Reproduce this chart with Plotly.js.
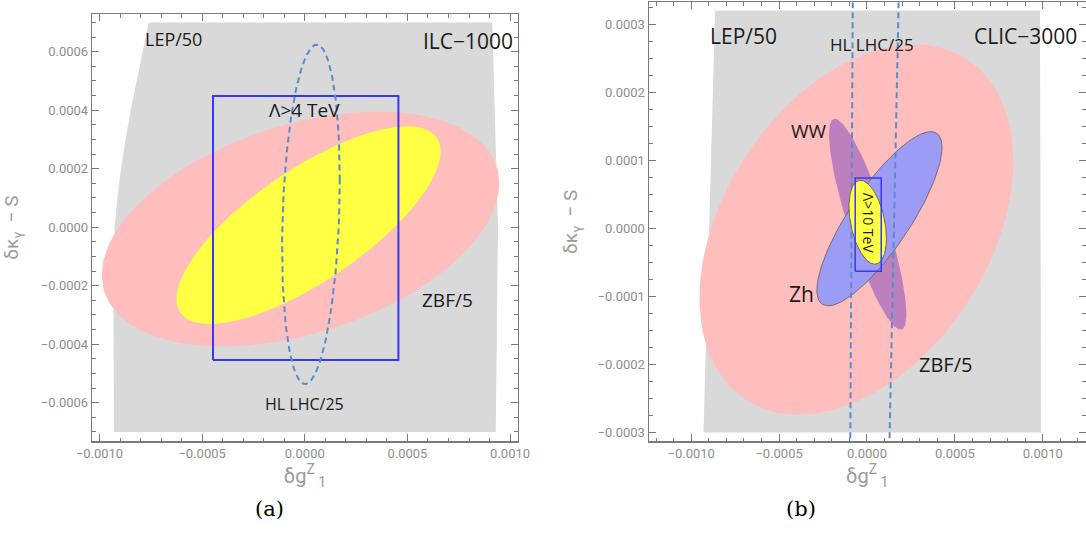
<!DOCTYPE html>
<html>
<head>
<meta charset="utf-8">
<script src="https://cdn.plot.ly/plotly-3.0.1.min.js"></script>
<style>
html,body{margin:0;padding:0;background:#ffffff;}
#chart{width:1086px;height:549px;}
</style>
</head>
<body>
<div id="chart"></div>
<script>
// ================= Panel (a): ILC-1000 =================
// LEP/50 allowed region (outline)
const aLepX = [-0.00076, -0.00079, -0.00082, -0.000848, -0.000873, -0.000895, -0.000913, -0.000926, -0.000932, -0.00093, 0.00093, 0.000941, 0.000913];
const aLepY = [0.0007, 0.0006, 0.0005, 0.0004, 0.0003, 0.0002, 0.0001, 0.0, -0.0002, -0.0007, -0.0007, 0.0, 0.0007];

// Ellipses: centre, half-extent in x and y, correlation
const aEllNames  = ["ZBF/5", "ILC-1000 fit", "HL LHC/25"];
const aEllCX     = [-0.000021, 0.0000185, 0.00003];
const aEllCY     = [-0.0000065, 0.000007, 0.000044];
const aEllSX     = [0.000968, 0.0006435, 0.0001405];
const aEllSY     = [0.0004015, 0.000338, 0.00058];
const aEllRho    = [0.39, 0.745, 0.2];

// Lambda > 4 TeV box
const aBoxX = [-0.000447, 0.000456];
const aBoxY = [-0.000454, 0.000449];

// Text labels
const aLabels  = ["LEP/50", "ILC−1000", "Λ>4 TeV", "ZBF/5", "HL LHC/25"];
const aLabelX  = [-0.00064, 0.000796, 0.0, 0.000695, 0.0];
const aLabelY  = [0.000645, 0.000636, 0.000402, -0.000248, -0.000606];
const aLabelSz = [18, 21, 19, 19, 16];

// ================= Panel (b): CLIC-3000 =================
const bLepX = [-0.000864, 0.000984, 0.00099, -0.00093];
const bLepY = [0.00032, 0.00032, -0.0003, -0.0003];

const bEllNames = ["ZBF/5", "WW", "Zh", "CLIC-3000 fit"];
const bEllCX    = [-0.00006, 0.000004, 0.000071, 0.000004];
const bEllCY    = [-0.000002, 0.000006, 0.000014, 0.0000088];
const bEllSX    = [0.000893, 0.00022, 0.000356, 0.0001067];
const bEllSY    = [0.000272, 0.000155, 0.000128, 0.0000616];
const bEllRho   = [0.37, -0.85, 0.82, -0.38];

// HL LHC/25 band edges (dashed), top and bottom x positions
const bHlY      = [0.000332, -0.000313];
const bHlLeftX  = [-0.000081, -0.000095];
const bHlRightX = [0.00018, 0.000128];

// Lambda > 10 TeV box
const bBoxX = [-0.000067, 0.000081];
const bBoxY = [-0.000063, 0.000074];

const bLabels  = ["LEP/50", "HL LHC/25", "CLIC−3000", "WW", "Zh", "ZBF/5"];
const bLabelX  = [-0.000704, 0.000028, 0.000901, -0.00033, -0.000374, 0.000447];
const bLabelY  = [0.000282, 0.00027, 0.000282, 0.000143, -0.000097, -0.0002];
const bLabelSz = [21, 17, 21, 19, 21, 20];
const bInnerLabel = "Λ>10 TeV";
const bInnerX = 0.000006, bInnerY = 0.000008;

// ---------------- helpers ----------------
function ellipse(cx, cy, sx, sy, rho){
  const xs = [], ys = [];
  const s = Math.sqrt(1 - rho*rho);
  for (let k = 0; k <= 180; k++){
    const t = 2*Math.PI*k/180;
    xs.push(cx + sx*Math.cos(t));
    ys.push(cy + sy*(rho*Math.cos(t) + s*Math.sin(t)));
  }
  return {x: xs, y: ys};
}
function boxPath(bx, by){
  return {x:[bx[0], bx[1], bx[1], bx[0], bx[0]], y:[by[0], by[0], by[1], by[1], by[0]]};
}
function area(xs, ys, color, xa, ya, name, line){
  return {x: xs, y: ys, xaxis: xa, yaxis: ya, type:'scatter', mode:'lines', fill:'toself',
          fillcolor: color, line: line || {width:0, color: color}, hoverinfo:'skip', name: name};
}

const GRAY = '#d9d9d9', PINK = '#ffbebe', YELLOW = '#ffff44', BOXC = '#3636ff', DASHC = '#5a8cc8';
const traces = [];

// Panel (a)
traces.push(area(aLepX.concat([aLepX[0]]), aLepY.concat([aLepY[0]]), GRAY, 'x', 'y', 'LEP/50'));
let e = ellipse(aEllCX[0], aEllCY[0], aEllSX[0], aEllSY[0], aEllRho[0]);
traces.push(area(e.x, e.y, PINK, 'x', 'y', aEllNames[0]));
e = ellipse(aEllCX[1], aEllCY[1], aEllSX[1], aEllSY[1], aEllRho[1]);
traces.push(area(e.x, e.y, YELLOW, 'x', 'y', aEllNames[1]));
let bp = boxPath(aBoxX, aBoxY);
traces.push({x: bp.x, y: bp.y, xaxis:'x', yaxis:'y', type:'scatter', mode:'lines',
  line:{color: BOXC, width:2}, hoverinfo:'skip', name:'Λ>4 TeV'});
e = ellipse(aEllCX[2], aEllCY[2], aEllSX[2], aEllSY[2], aEllRho[2]);
traces.push({x: e.x, y: e.y, xaxis:'x', yaxis:'y', type:'scatter', mode:'lines',
  line:{color: DASHC, width:2, dash:'6px,4px'}, hoverinfo:'skip', name: aEllNames[2]});

// Panel (b)
traces.push(area(bLepX.concat([bLepX[0]]), bLepY.concat([bLepY[0]]), GRAY, 'x2', 'y2', 'LEP/50'));
e = ellipse(bEllCX[0], bEllCY[0], bEllSX[0], bEllSY[0], bEllRho[0]);
traces.push(area(e.x, e.y, PINK, 'x2', 'y2', bEllNames[0]));
e = ellipse(bEllCX[1], bEllCY[1], bEllSX[1], bEllSY[1], bEllRho[1]);
traces.push(area(e.x, e.y, '#bd80bf', 'x2', 'y2', bEllNames[1]));
e = ellipse(bEllCX[2], bEllCY[2], bEllSX[2], bEllSY[2], bEllRho[2]);
traces.push(area(e.x, e.y, '#9c9cf7', 'x2', 'y2', bEllNames[2], {color:'#7d6a6a', width:1}));
traces.push({x: bHlLeftX, y: bHlY, xaxis:'x2', yaxis:'y2', type:'scatter', mode:'lines',
  line:{color: DASHC, width:2, dash:'6px,4px'}, hoverinfo:'skip', name:'HL LHC/25'});
traces.push({x: bHlRightX, y: bHlY, xaxis:'x2', yaxis:'y2', type:'scatter', mode:'lines',
  line:{color: DASHC, width:2, dash:'6px,4px'}, hoverinfo:'skip', name:'HL LHC/25'});
e = ellipse(bEllCX[3], bEllCY[3], bEllSX[3], bEllSY[3], bEllRho[3]);
traces.push(area(e.x, e.y, YELLOW, 'x2', 'y2', bEllNames[3], {color:'#666666', width:1}));
bp = boxPath(bBoxX, bBoxY);
traces.push({x: bp.x, y: bp.y, xaxis:'x2', yaxis:'y2', type:'scatter', mode:'lines',
  line:{color: BOXC, width:1.5}, hoverinfo:'skip', name:'Λ>10 TeV'});

// ---------------- annotations ----------------
const LABEL_FONT = 'Open Sans, sans-serif';
const annotations = [];
aLabels.forEach((t, i) => annotations.push({text: t, x: aLabelX[i], y: aLabelY[i], xref:'x', yref:'y',
  showarrow:false, font:{family: LABEL_FONT, size: aLabelSz[i], color:'#1a1a1a'}}));
bLabels.forEach((t, i) => annotations.push({text: t, x: bLabelX[i], y: bLabelY[i], xref:'x2', yref:'y2',
  showarrow:false, font:{family: LABEL_FONT, size: bLabelSz[i], color:'#1a1a1a'}}));
annotations.push({text: bInnerLabel, x: bInnerX, y: bInnerY, xref:'x2', yref:'y2', textangle:90,
  showarrow:false, font:{family: LABEL_FONT, size: 14, color:'#1a1a1a'}});
annotations.push({text:'(a)', x: 253/1086, y: 1-509/549, xref:'paper', yref:'paper', yanchor:'middle', showarrow:false,
  font:{family:'DejaVu Serif, Liberation Serif, serif', size:21, color:'#000'}});
annotations.push({text:'(b)', x: 818/1086, y: 1-509/549, xref:'paper', yref:'paper', yanchor:'middle', showarrow:false,
  font:{family:'DejaVu Serif, Liberation Serif, serif', size:21, color:'#000'}});

// ---------------- axes ----------------
function axis(extra, minorDtick){
  return Object.assign({
    showgrid:false, zeroline:false, showline:true, mirror:'ticks',
    linecolor:'#7a7a7a', linewidth:1.5,
    ticks:'inside', ticklen:7, tickwidth:1, tickcolor:'#7a7a7a',
    tickfont:{family:'Roboto, sans-serif', size:13, color:'#8e8e8e'},
    tickformat:'.4f', tick0:0, fixedrange:true,
    minor:{ticks:'inside', ticklen:3.5, tickwidth:1, tickcolor:'#7a7a7a', dtick: minorDtick, showgrid:false}
  }, extra);
}
const XT = {text:'δg<sup>Z</sup><sub> 1</sub>', font:{family:'Roboto, sans-serif', size:20, color:'#9a9a9a'}, standoff:4};
const YT = {text:'δκ<sub>γ</sub>  − S', font:{family:'Roboto, sans-serif', size:19, color:'#9a9a9a'}, standoff:17};

const layout = {
  width:1086, height:549,
  margin:{l:0, r:0, t:0, b:0},
  paper_bgcolor:'#ffffff', plot_bgcolor:'#ffffff',
  showlegend:false,
  xaxis: axis({domain:[92.3/1086, 517.7/1086], range:[-0.001035, 0.001037], dtick:0.0005, anchor:'y', title: XT}, 0.0001),
  yaxis: axis({domain:[1-441.3/549, 1-14/549], range:[-0.000732, 0.000729], dtick:0.0002, anchor:'x', title: YT}, 0.00005),
  xaxis2: axis({domain:[649/1086, 1085.5/1086], range:[-0.00124, 0.001243], dtick:0.0005, anchor:'y2', title: XT}, 0.0001),
  yaxis2: axis({domain:[1-441.3/549, 1-2.3/549], range:[-0.000313, 0.000332], dtick:0.0001, anchor:'x2', title: Object.assign({}, YT, {standoff:15})}, 0.000025),
  annotations: annotations
};

Plotly.newPlot('chart', traces, layout, {staticPlot:true, displayModeBar:false});
</script>
</body>
</html>
